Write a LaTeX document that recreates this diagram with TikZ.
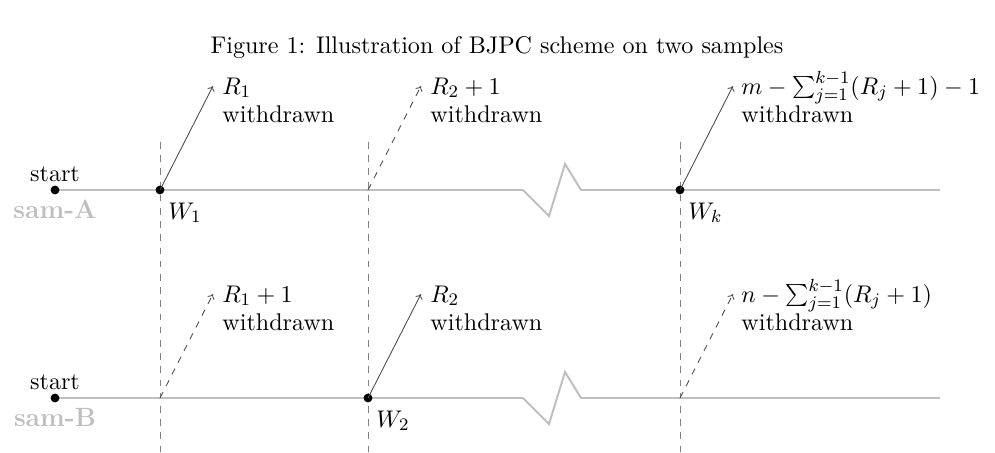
\documentclass[tikz,border=0pt]{standalone}
\usetikzlibrary{arrows.meta}
\begin{document}
\begin{tikzpicture}[x=0.4545pt,y=-0.4545pt,
  every node/.style={font=\fontsize{10.95}{13.6}\selectfont, inner sep=0pt},
  axisline/.style={draw=black!25, line width=0.9pt},
  guide/.style={draw=black!50, dashed, line width=0.4pt},
  dotpt/.style={circle, fill=black, minimum size=4pt, inner sep=0pt},
  wsolid/.style={draw=black!70, line width=0.4pt, -{To[length=2.2pt,width=3.5pt]}},
  wdashed/.style={draw=black!70, line width=0.4pt, dashed, -{To[length=2.2pt,width=3.5pt]}},
  lbl/.style={anchor=base west},
  samlbl/.style={anchor=base, font=\fontsize{12}{14}\selectfont\bfseries, text=black!25}]
\useasboundingbox (0,0) rectangle (995,453);
% title
\node[anchor=base] (title) at (497,53) {Figure 1: Illustration of BJPC scheme on two samples};
% vertical guides
\coordinate (g1t) at (160,142); \coordinate (g1b) at (160,453);
\coordinate (g2t) at (368,142); \coordinate (g2b) at (368,453);
\coordinate (g3t) at (680,142); \coordinate (g3b) at (680,453);
\draw[guide] (g1t) -- (g1b);
\draw[guide] (g2t) -- (g2b);
\draw[guide] (g3t) -- (g3b);
% sample lines
\coordinate (aS) at (55,190); \coordinate (aE) at (940,190);
\coordinate (bS) at (55,398); \coordinate (bE) at (940,398);
\draw[axisline] (aS) -- (523,190) -- (549,216) -- (565,164) -- (581,190) -- (aE);
\draw[axisline] (bS) -- (523,398) -- (549,424) -- (565,372) -- (581,398) -- (bE);
% points
\node[dotpt] (startA) at (aS) {};
\node[dotpt] (startB) at (bS) {};
\node[dotpt] (W1) at (160,190) {};
\node[dotpt] (W2) at (368,398) {};
\node[dotpt] (Wk) at (680,190) {};
\coordinate (A2) at (368,190);
\coordinate (B1) at (160,398);
\coordinate (Bk) at (680,398);
% labels for starts
\node[anchor=base] (stA) at (55,181) {start};
\node[samlbl] (samA) at (55,218) {sam-A};
\node[anchor=base] (stB) at (55,389) {start};
\node[samlbl] (samB) at (55,426) {sam-B};
% W labels
\node[lbl] (lW1) at (168,219) {$W_1$};
\node[lbl] (lW2) at (376,427) {$W_2$};
\node[lbl] (lWk) at (688,219) {$W_k$};
% arrow ends
\coordinate (eA1) at (213,86);
\coordinate (eA2) at (421,86);
\coordinate (eAk) at (733,86);
\coordinate (eB1) at (213,294);
\coordinate (eB2) at (421,294);
\coordinate (eBk) at (733,294);
\draw[wsolid] (W1.center) -- (eA1);
\draw[wdashed] (A2) -- (eA2);
\draw[wsolid] (Wk.center) -- (eAk);
\draw[wdashed] (B1) -- (eB1);
\draw[wsolid] (W2.center) -- (eB2);
\draw[wdashed] (Bk) -- (eBk);
% withdrawal labels
\node[lbl] (rA1) at (222,94) {$R_1$};
\node[lbl] (wA1) at (222,122) {withdrawn};
\node[lbl] (rA2) at (430,94) {$R_2+1$};
\node[lbl] (wA2) at (430,122) {withdrawn};
\node[lbl] (rAk) at (741,94) {$m-\sum_{j=1}^{k-1}(R_j+1)-1$};
\node[lbl] (wAk) at (741,122) {withdrawn};
\node[lbl] (rB1) at (222,302) {$R_1+1$};
\node[lbl] (wB1) at (222,330) {withdrawn};
\node[lbl] (rB2) at (430,302) {$R_2$};
\node[lbl] (wB2) at (430,330) {withdrawn};
\node[lbl] (rBk) at (741,302) {$n-\sum_{j=1}^{k-1}(R_j+1)$};
\node[lbl] (wBk) at (741,330) {withdrawn};
\end{tikzpicture}
\end{document}
